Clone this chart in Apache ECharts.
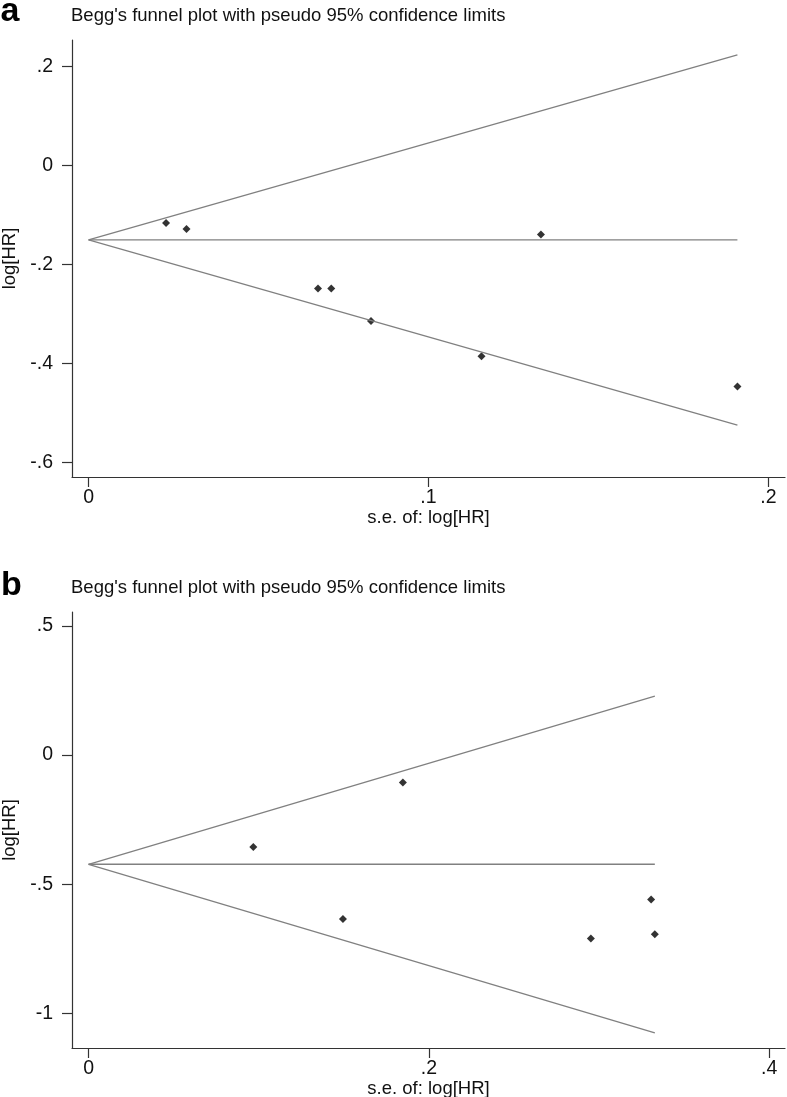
<!DOCTYPE html>
<html>
<head>
<meta charset="utf-8">
<script src="https://cdn.jsdelivr.net/npm/echarts@6/dist/echarts.min.js"></script>
<style>
html,body{margin:0;padding:0;background:#fff;}
#chart{width:787px;height:1097px;}
</style>
</head>
<body>
<div id="chart"></div>
<script>
// ---- Panel a data ----
const seA = [0.0228, 0.0288, 0.0675, 0.0714, 0.0831, 0.1156, 0.1331, 0.1909];
const logHrA = [-0.117, -0.129, -0.249, -0.249, -0.315, -0.386, -0.140, -0.447];
const centerA = [[0, -0.151], [0.1909, -0.151]];
const upperA = [[0, -0.151], [0.1909, 0.223]];
const lowerA = [[0, -0.151], [0.1909, -0.525]];
const xTicksA = [0, 0.1, 0.2];
const yTicksA = [0.2, 0, -0.2, -0.4, -0.6];

// ---- Panel b data ----
const seB = [0.0968, 0.1495, 0.1847, 0.2952, 0.3306, 0.3328];
const logHrB = [-0.356, -0.635, -0.106, -0.711, -0.560, -0.694];
const centerB = [[0, -0.423], [0.3328, -0.423]];
const upperB = [[0, -0.423], [0.3328, 0.229]];
const lowerB = [[0, -0.423], [0.3328, -1.076]];
const xTicksB = [0, 0.2, 0.4];
const yTicksB = [0.5, 0, -0.5, -1];

const panelLetters = ['a', 'b'];
const titleText = "Begg's funnel plot with pseudo 95% confidence limits";
const xName = 's.e. of: log[HR]';
const yName = 'log[HR]';

const FONT = '"Liberation Sans", Arial, Helvetica, sans-serif';
const fmt = v => {
  if (Math.abs(v) < 1e-9) return '0';
  let s = String(+v.toFixed(4));
  return s.replace(/^(-?)0\./, '$1.');
};

function xAxisCfg(idx, min, max, ticks) {
  return {
    type: 'value', gridIndex: idx, min: min, max: max,
    name: xName, nameLocation: 'middle', nameGap: 29,
    nameTextStyle: {fontFamily: FONT, fontSize: 18.5, color: '#111'},
    axisLine: {show: true, onZero: false, lineStyle: {color: '#333', width: 1.2}},
    axisTick: {show: true, inside: false, length: 10, customValues: ticks, lineStyle: {color: '#333', width: 1.2}},
    axisLabel: {show: true, margin: 11, customValues: ticks, formatter: fmt, fontFamily: FONT, fontSize: 19.5, color: '#111'},
    splitLine: {show: false}
  };
}
function yAxisCfg(idx, min, max, ticks) {
  return {
    type: 'value', gridIndex: idx, min: min, max: max,
    name: yName, nameLocation: 'middle', nameGap: 53, nameRotate: 90,
    nameTextStyle: {fontFamily: FONT, fontSize: 18.5, color: '#111'},
    axisLine: {show: true, onZero: false, lineStyle: {color: '#333', width: 1.2}},
    axisTick: {show: true, inside: false, length: 10, customValues: ticks, lineStyle: {color: '#333', width: 1.2}},
    axisLabel: {show: true, margin: 19, customValues: ticks, formatter: fmt, fontFamily: FONT, fontSize: 19.5, color: '#111'},
    splitLine: {show: false}
  };
}
function lineSeries(idx, data) {
  return {
    type: 'line', xAxisIndex: idx, yAxisIndex: idx, data: data,
    showSymbol: false, symbol: 'none', silent: true, animation: false,
    lineStyle: {color: '#808080', width: 1.3}
  };
}
function scatterSeries(idx, xs, ys) {
  return {
    type: 'scatter', xAxisIndex: idx, yAxisIndex: idx,
    data: xs.map((x, i) => [x, ys[i]]),
    symbol: 'diamond', symbolSize: 8, animation: false,
    itemStyle: {color: '#000'}
  };
}

const chart = echarts.init(document.getElementById('chart'), null, {renderer: 'canvas'});
chart.setOption({
  backgroundColor: '#fff',
  animation: false,
  grid: [
    {left: 72, top: 40, width: 713, height: 437, containLabel: false, outerBoundsMode: 'none'},
    {left: 72, top: 612, width: 713, height: 436, containLabel: false, outerBoundsMode: 'none'}
  ],
  xAxis: [
    xAxisCfg(0, -0.00488, 0.2049, xTicksA),
    xAxisCfg(1, -0.00975, 0.4093, xTicksB)
  ],
  yAxis: [
    yAxisCfg(0, -0.630, 0.2528, yTicksA),
    yAxisCfg(1, -1.135, 0.5546, yTicksB)
  ],
  graphic: [
    {type: 'text', x: 0.5, y: 12, style: {text: panelLetters[0], font: 'bold 34px ' + FONT, fill: '#000', verticalAlign: 'middle'}},
    {type: 'text', x: 71, y: 16, style: {text: titleText, font: '18.5px ' + FONT, fill: '#111', verticalAlign: 'middle'}},
    {type: 'text', x: 1, y: 585.5, style: {text: panelLetters[1], font: 'bold 34px ' + FONT, fill: '#000', verticalAlign: 'middle'}},
    {type: 'text', x: 71, y: 588, style: {text: titleText, font: '18.5px ' + FONT, fill: '#111', verticalAlign: 'middle'}}
  ],
  series: [
    lineSeries(0, upperA), lineSeries(0, centerA), lineSeries(0, lowerA),
    scatterSeries(0, seA, logHrA),
    lineSeries(1, upperB), lineSeries(1, centerB), lineSeries(1, lowerB),
    scatterSeries(1, seB, logHrB)
  ]
});
</script>
</body>
</html>
